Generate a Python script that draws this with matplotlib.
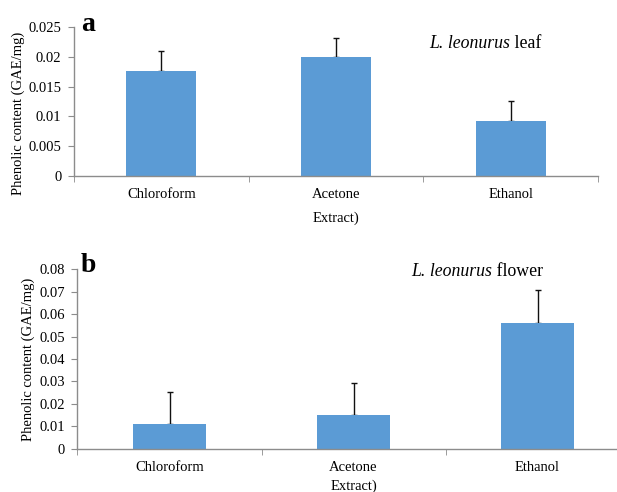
import matplotlib.pyplot as plt

# extracts (x categories)
categories = ["Chloroform", "Acetone", "Ethanol"]

# panel a - leaf
leaf_values = [0.0177, 0.0199, 0.0092]
leaf_err = [0.0033, 0.0033, 0.0034]
leaf_ticks = [0, 0.005, 0.01, 0.015, 0.02, 0.025]
leaf_tick_labels = ["0", "0.005", "0.01", "0.015", "0.02", "0.025"]

# panel b - flower
flower_values = [0.0108, 0.0151, 0.0561]
flower_err = [0.0144, 0.0144, 0.0146]
flower_ticks = [0, 0.01, 0.02, 0.03, 0.04, 0.05, 0.06, 0.07, 0.08]
flower_tick_labels = ["0", "0.01", "0.02", "0.03", "0.04", "0.05", "0.06", "0.07", "0.08"]

BAR = "#5B9BD5"
AXIS = "#8C8C8C"

plt.rcParams['font.family'] = ['Liberation Serif', 'DejaVu Serif']


def draw_panel(ax, values, err, ticks, tick_labels, letter, letter_x, organ, title_xy,
               ylab_xy, xlab_pad):
    x = list(range(len(categories)))
    ax.bar(x, values, width=0.4, color=BAR, zorder=2)
    ax.errorbar(x, values, yerr=[[0] * len(err), err], fmt="none",
                ecolor="#111111", elinewidth=1.0, capsize=2.5, capthick=1.0, zorder=1)
    ax.set_xlim(-0.5, len(categories) - 0.5)
    ax.set_ylim(ticks[0], ticks[-1])
    ax.set_yticks(ticks)
    ax.set_yticklabels(tick_labels, fontsize=10.5)
    ax.set_xticks(x)
    ax.set_xticklabels(categories, fontsize=10.5)
    ax.tick_params(axis="x", which="major", length=0, pad=9)
    ax.set_xticks([i + 0.5 for i in range(-1, len(categories))], minor=True)
    ax.tick_params(axis="x", which="minor", length=4, color=AXIS, direction="out")
    ax.tick_params(axis="y", length=4, color=AXIS, direction="out", pad=5)
    for side in ("top", "right"):
        ax.spines[side].set_visible(False)
    for side in ("left", "bottom"):
        ax.spines[side].set_color(AXIS)
        ax.spines[side].set_linewidth(1.0)
    ax.set_ylabel("Phenolic content (GAE/mg)", fontsize=10.5)
    ax.yaxis.set_label_coords(*ylab_xy)
    ax.set_xlabel("Extract)", fontsize=10.5, labelpad=xlab_pad)
    ax.text(letter_x, 1.02, letter, transform=ax.transAxes, fontsize=20,
            fontweight="bold", ha="left", va="center")
    species = ax.text(title_xy[0], title_xy[1], "L. leonurus", transform=ax.transAxes,
                      fontsize=12.8, fontstyle="italic", ha="left", va="bottom")
    ax.annotate(" " + organ, xy=(1, 0), xycoords=species, fontsize=12.8,
                ha="left", va="bottom")


fig = plt.figure(figsize=(6.17, 4.92), dpi=100)

ax_a = fig.add_axes([0.1199, 0.6423, 0.8493, 0.3028])
draw_panel(ax_a, leaf_values, leaf_err, leaf_ticks, leaf_tick_labels,
           "a", 0.014, "leaf", (0.678, 0.83), (-0.094, 0.42), 7)

ax_b = fig.add_axes([0.1256, 0.088, 0.8947, 0.3646])
draw_panel(ax_b, flower_values, flower_err, flower_ticks, flower_tick_labels,
           "b", 0.006, "flower", (0.604, 0.94), (-0.077, 0.5), 4)

fig.savefig("out.png", dpi=100)
